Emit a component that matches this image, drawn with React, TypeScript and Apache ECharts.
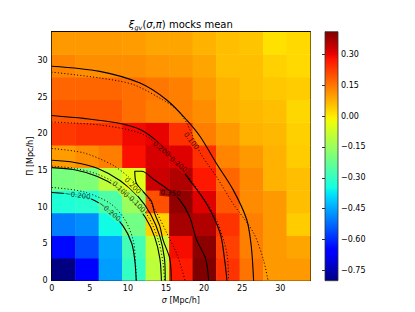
import React, { useEffect, useRef } from "react";
import * as echarts from "echarts";

// ---------------- data ----------------
const VMIN = -0.8;
const VMAX = 0.41;
const AXIS_MAX = 33.9;
const NBINS = 11;

// mean xi_gv per (sigma, pi) bin; rows from pi≈0 upward, columns sigma left→right
const xiRow0 = [-0.8, -0.66, -0.46, -0.3, -0.1, 0.268, 0.41, 0.236, 0.154, 0.105, 0.105];
const xiRow1 = [-0.64, -0.56, -0.45, -0.28, -0.09, 0.285, 0.397, 0.22, 0.138, 0.105, 0.09];
const xiRow2 = [-0.5, -0.48, -0.35, -0.21, 0.03, 0.37, 0.36, 0.236, 0.138, 0.105, 0.04];
const xiRow3 = [-0.33, -0.32, -0.26, -0.15, 0.2, 0.39, 0.31, 0.19, 0.121, 0.105, 0.056];
const xiRow4 = [-0.2, -0.19, -0.1, -0.05, 0.33, 0.36, 0.27, 0.17, 0.121, 0.072, 0.056];
const xiRow5 = [0.1, 0.12, 0.14, 0.28, 0.32, 0.31, 0.24, 0.13, 0.105, 0.072, 0.04];
const xiRow6 = [0.23, 0.24, 0.24, 0.29, 0.3, 0.24, 0.14, 0.105, 0.072, 0.065, 0.035];
const xiRow7 = [0.19, 0.19, 0.19, 0.16, 0.14, 0.14, 0.12, 0.075, 0.065, 0.056, 0.025];
const xiRow8 = [0.17, 0.17, 0.17, 0.16, 0.15, 0.138, 0.105, 0.072, 0.056, 0.046, 0.04];
const xiRow9 = [0.13, 0.12, 0.12, 0.12, 0.11, 0.105, 0.09, 0.056, 0.056, 0.033, 0.023];
const xiRow10 = [0.105, 0.105, 0.105, 0.1, 0.09, 0.09, 0.072, 0.056, 0.05, 0.013, 0.023];
const xiRows = [xiRow0, xiRow1, xiRow2, xiRow3, xiRow4, xiRow5, xiRow6, xiRow7, xiRow8, xiRow9, xiRow10];

const axisTicks = [0, 5, 10, 15, 20, 25, 30];
const colorbarTicks = [-0.75, -0.6, -0.45, -0.3, -0.15, 0, 0.15, 0.3];

// contours [sigma, pi] — solid: mocks, dotted: model
const solidM020 = [[0, 12.0], [4.2, 11.5], [7.2, 9.9], [9.4, 7.4], [10.5, 5.1], [10.9, 2.8], [11.1, 0]];
const solid010In = [[0, 15.4], [3, 15.1], [6, 14.2], [8.5, 12.8], [10.5, 11.0], [12.3, 8.6], [13.5, 6.0], [14.2, 3.0], [14.4, 0]];
const solid020In = [[0, 16.4], [3, 16.1], [6, 15.3], [9, 13.6], [11.3, 11.5], [13, 9.0], [14.2, 6.0], [14.8, 3.0], [14.9, 0]];
const solid035 = [[15.7, 0], [15.5, 3], [14.6, 5.6], [14.2, 7.4], [13.5, 9.2], [13.1, 10.8], [12.2, 11.9], [11.1, 13.3], [10.9, 14.9], [11.8, 14.9], [13.5, 13.7], [15.3, 12.4], [16.8, 11.0], [18.1, 8.7], [19.0, 5.6], [20.2, 3.0], [20.6, 0]];
const solid020Out = [[0, 22.5], [4.2, 22.1], [8.5, 21.5], [11.6, 20.6], [13.8, 19.0], [16.0, 16.5], [18.1, 13.7], [20.3, 10.5], [22.1, 6.5], [22.7, 2.8], [23.0, 0]];
const solid010Out = [[0, 29.2], [6.3, 28.5], [11.6, 26.9], [15.1, 24.6], [17.7, 21.9], [19.5, 19.6], [21.6, 16.0], [23.8, 12.4], [25.6, 8.3], [26.2, 4.6], [26.5, 0]];
const dottedM020 = [[0, 12.7], [4.2, 12.1], [7.7, 10.5], [9.6, 8.3], [10.7, 5.5], [11.0, 2.5], [11.1, 0]];
const dotted010In = [[0, 15.6], [3, 15.3], [6, 14.5], [9, 12.9], [11, 11.0], [12.8, 8.5], [14, 5.5], [14.6, 2.5], [14.8, 0]];
const dotted020In = [[0, 18.0], [4.2, 17.4], [7.9, 15.8], [10, 14.2], [12.2, 11.9], [13.8, 9.2], [15.1, 6.5], [16.4, 3.7], [17.1, 1.5], [17.5, 0]];
const dotted020Out = [[0, 21.6], [6.3, 21.2], [11.6, 20.1], [14.2, 18.3], [16.8, 15.6], [19.5, 11.9], [21.6, 8.3], [23.0, 3.7], [23.2, 0]];
const dotted010Out = [[0, 28.4], [6.3, 27.6], [10.7, 26.7], [14.6, 24.6], [16.4, 23.3], [17.7, 21.5], [19.5, 17.4], [21.6, 14.2], [23.8, 10.5], [26.5, 6.5], [27.8, 2.8], [28.4, 0]];
const solidContours = [solidM020, solid010In, solid020In, solid035, solid020Out, solid010Out];
const dottedContours = [dottedM020, dotted010In, dotted020In, dotted020Out, dotted010Out];

// contour labels
const labelText = ["\u22120.200", "\u22120.200", "0.200", "0.100", "0.100", "0.350", "0.200", "0.200", "0.100"];
const labelAt = [[3.4, 11.6], [7.6, 9.4], [10.6, 12.9], [9.0, 12.4], [11.2, 10.4], [15.6, 11.9], [14.4, 17.9], [16.6, 15.8], [18.3, 19.0]];
const labelAngle = [-8, -40, -45, -45, -45, -5, -40, -40, -52];

// ---------------- jet colormap ----------------
const JET: Record<string, number[][]> = {
  r: [[0, 0], [0.35, 0], [0.66, 1], [0.89, 1], [1, 0.5]],
  g: [[0, 0], [0.125, 0], [0.375, 1], [0.64, 1], [0.91, 0], [1, 0]],
  b: [[0, 0.5], [0.11, 1], [0.34, 1], [0.65, 0], [1, 0]],
};
function interp(pts: number[][], t: number) {
  for (let i = 1; i < pts.length; i++) {
    if (t <= pts[i][0]) {
      const [x0, y0] = pts[i - 1];
      const [x1, y1] = pts[i];
      return y0 + ((y1 - y0) * (t - x0)) / (x1 - x0 || 1);
    }
  }
  return pts[pts.length - 1][1];
}
function jet(t: number) {
  const tt = Math.max(0, Math.min(1, t));
  const c = (k: string) => Math.round(255 * interp(JET[k], tt));
  return `rgb(${c("r")},${c("g")},${c("b")})`;
}
const JET_N = 64;
const jetColors = Array.from({ length: JET_N + 1 }, (_, i) => jet(i / JET_N));

const FONT = "DejaVu Sans";

export default function App() {
  const ref = useRef<HTMLDivElement>(null);
  useEffect(() => {
    if (!ref.current) return;
    const chart = echarts.init(ref.current, null, { renderer: "svg" });
    const bin = AXIS_MAX / NBINS;
    const cells: number[][] = [];
    xiRows.forEach((row, iy) =>
      row.forEach((v, ix) => cells.push([(ix + 0.5) * bin, (iy + 0.5) * bin, v]))
    );
    const cellColorAt = (s: number, p: number) => {
      const ix = Math.min(NBINS - 1, Math.floor(s / bin));
      const iy = Math.min(NBINS - 1, Math.floor(p / bin));
      return jet((xiRows[iy][ix] - VMIN) / (VMAX - VMIN));
    };

    const tickStyle = { inside: true, length: 4, lineStyle: { color: "#000", width: 0.8 }, customValues: axisTicks };
    const lineAx = { show: true, onZero: false, lineStyle: { color: "#000", width: 1 } };
    const labelStyle = { color: "#000", fontSize: 8, fontFamily: FONT, margin: 4, customValues: axisTicks };

    const lineSeries: any[] = [];
    solidContours.forEach((c) =>
      lineSeries.push({
        type: "line", xAxisIndex: 0, yAxisIndex: 0, data: c, showSymbol: false, smooth: 0.3,
        lineStyle: { color: "#000", width: 1.1, type: "solid" }, z: 4, silent: true, clip: true,
      })
    );
    dottedContours.forEach((c) =>
      lineSeries.push({
        type: "line", xAxisIndex: 0, yAxisIndex: 0, data: c, showSymbol: false, smooth: 0.3,
        lineStyle: { color: "#000", width: 1, type: [1, 2.2] }, z: 4, silent: true, clip: true,
      })
    );

    chart.setOption({
      animation: false,
      backgroundColor: "#fff",
      textStyle: { fontFamily: FONT },
      grid: [
        { left: 51.7, top: 31.7, width: 258.3, height: 249 },
        { left: 325, top: 31.7, width: 13, height: 249 },
      ],
      xAxis: [
        {
          type: "value", gridIndex: 0, min: 0, max: AXIS_MAX, position: "bottom",
          axisLine: lineAx, axisTick: tickStyle, axisLabel: labelStyle, splitLine: { show: false },
          name: "{i|\u03c3} [Mpc/h]", nameLocation: "middle", nameGap: 15.5, nameMoveOverlap: false,
          nameTextStyle: { color: "#000", fontSize: 8, fontFamily: FONT, rich: { i: { fontStyle: "italic", fontSize: 8, fontFamily: FONT } } },
        },
        {
          type: "value", gridIndex: 0, min: 0, max: AXIS_MAX, position: "top",
          axisLine: lineAx, axisTick: tickStyle, axisLabel: { show: false }, splitLine: { show: false },
        },
        { type: "value", gridIndex: 1, min: 0, max: 1, show: false },
      ],
      yAxis: [
        {
          type: "value", gridIndex: 0, min: 0, max: AXIS_MAX, position: "left",
          axisLine: lineAx, axisTick: tickStyle, axisLabel: labelStyle, splitLine: { show: false },
          name: "\u03a0 [Mpc/h]", nameLocation: "middle", nameGap: 17, nameRotate: 90, nameMoveOverlap: false,
          nameTextStyle: { color: "#000", fontSize: 8, fontFamily: FONT },
        },
        {
          type: "value", gridIndex: 0, min: 0, max: AXIS_MAX, position: "right",
          axisLine: lineAx, axisTick: tickStyle, axisLabel: { show: false }, splitLine: { show: false },
        },
        {
          type: "value", gridIndex: 1, min: VMIN, max: VMAX, position: "right",
          axisLine: { show: false }, splitLine: { show: false },
          axisTick: { inside: true, length: 3, lineStyle: { color: "#000", width: 0.8 }, customValues: colorbarTicks },
          axisLabel: {
            color: "#000", fontSize: 8, fontFamily: FONT, margin: 3, customValues: colorbarTicks,
            formatter: (v: number) => (v < -1e-9 ? "\u2212" : "") + Math.abs(v).toFixed(2),
          },
        },
      ],
      visualMap: {
        show: false, type: "continuous", min: VMIN, max: VMAX, dimension: 2, seriesIndex: 0,
        inRange: { color: jetColors },
      },
      graphic: [
        {
          type: "text", x: 180.8, y: 24,
          style: {
            text: "{i|\u03be}{s|gv}{n|(}{i|\u03c3}{n|,}{i|\u03c0}{n|) mocks mean}",
            align: "center", verticalAlign: "middle", fill: "#000", fontFamily: FONT, fontSize: 10,
            rich: {
              i: { fontStyle: "italic", fontSize: 10, fontFamily: FONT, lineHeight: 14, verticalAlign: "middle" },
              n: { fontSize: 10, fontFamily: FONT, lineHeight: 14, verticalAlign: "middle" },
              s: { fontStyle: "italic", fontSize: 6.5, fontFamily: FONT, lineHeight: 8, verticalAlign: "bottom" },
            },
          },
        },
      ],
      series: [
        {
          type: "custom", xAxisIndex: 0, yAxisIndex: 0, data: cells, clip: true, silent: true, z: 1,
          encode: { x: 0, y: 1 },
          renderItem: (_p: any, api: any) => {
            const h = bin / 2;
            const a = api.coord([api.value(0) - h, api.value(1) + h]);
            const b = api.coord([api.value(0) + h, api.value(1) - h]);
            return {
              type: "rect",
              shape: { x: a[0], y: a[1], width: b[0] - a[0] + 0.5, height: b[1] - a[1] + 0.5 },
              style: { fill: api.visual("color") },
            };
          },
        },
        {
          type: "custom", xAxisIndex: 2, yAxisIndex: 2, data: [[0, VMIN, 1, VMAX]], silent: true,
          encode: { x: [0, 2], y: [1, 3] },
          renderItem: (_p: any, api: any) => {
            const a = api.coord([api.value(0), api.value(3)]);
            const b = api.coord([api.value(2), api.value(1)]);
            const stops = jetColors.map((c, i) => ({ offset: 1 - i / JET_N, color: c }));
            stops.reverse();
            return {
              type: "rect",
              shape: { x: a[0], y: a[1], width: b[0] - a[0], height: b[1] - a[1] },
              style: { fill: new echarts.graphic.LinearGradient(0, 0, 0, 1, stops), stroke: "#333", lineWidth: 0.8 },
            };
          },
        },
        ...lineSeries,
        {
          type: "scatter", xAxisIndex: 0, yAxisIndex: 0, symbolSize: 0, silent: true, z: 5,
          data: labelAt.map((p, i) => ({
            value: p,
            label: { rotate: labelAngle[i], backgroundColor: cellColorAt(p[0], p[1]) },
          })),
          label: {
            show: true, position: "inside", color: "#000", fontSize: 7, fontFamily: FONT, padding: [0, 1],
            formatter: (p: any) => labelText[p.dataIndex],
          },
        },
      ],
    });
    return () => chart.dispose();
  }, []);
  return (
    <div
      ref={ref}
      style={{ position: "absolute", left: 0, top: 0, width: 415, height: 312, background: "#fff" }}
    />
  );
}
